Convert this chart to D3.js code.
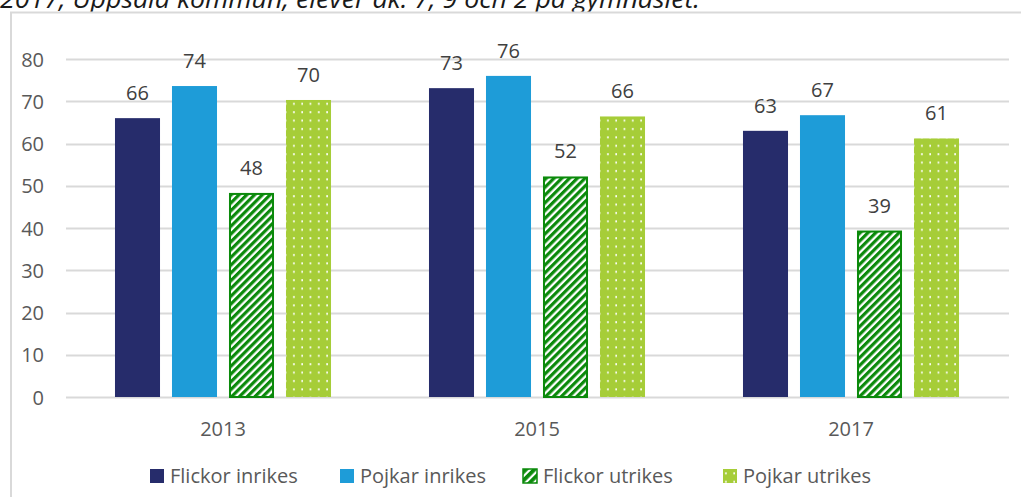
<!DOCTYPE html>
<html><head><meta charset="utf-8">
<script src="https://cdn.jsdelivr.net/npm/d3@7"></script>
<style>
html,body{margin:0;padding:0;background:#fff;overflow:hidden;}
svg{display:block;font-family:"Open Sans",sans-serif;}
</style></head>
<body>
<svg id="chart" width="1021" height="497"></svg>
<script>
const categories = ["2013", "2015", "2017"];
const seriesNames = ["Flickor inrikes", "Pojkar inrikes", "Flickor utrikes", "Pojkar utrikes"];
const flickorInrikes = [66.0, 73.1, 63.0];
const pojkarInrikes = [73.6, 76.0, 66.7];
const flickorUtrikes = [48.3, 52.2, 39.4];
const pojkarUtrikes = [70.3, 66.4, 61.2];
const yTicks = [0, 10, 20, 30, 40, 50, 60, 70, 80];
const titleText = "2017, Uppsala kommun, elever åk. 7, 9 och 2 på gymnasiet.";

const seriesValues = [flickorInrikes, pojkarInrikes, flickorUtrikes, pojkarUtrikes];
const fills = ["#262c6b", "#1e9cd8", "url(#stripes)", "url(#dots)"];
const strokes = ["none", "none", "#0b8a0b", "none"];

const svg = d3.select("#chart");
const defs = svg.append("defs");
const st = defs.append("pattern").attr("id", "stripes").attr("patternUnits", "userSpaceOnUse")
  .attr("width", 5.5).attr("height", 5.5).attr("patternTransform", "rotate(45)");
st.append("rect").attr("width", 5.5).attr("height", 5.5).attr("fill", "#ffffff");
st.append("rect").attr("width", 3.2).attr("height", 5.5).attr("fill", "#0b8a0b");
const dp = defs.append("pattern").attr("id", "dots").attr("patternUnits", "userSpaceOnUse")
  .attr("width", 8.3).attr("height", 8.4);
dp.append("rect").attr("width", 8.3).attr("height", 8.4).attr("fill", "#a6cd38");
dp.append("rect").attr("x", 3).attr("y", 2).attr("width", 1.6).attr("height", 2).attr("fill", "#ffffff");
const st2 = defs.append("pattern").attr("id", "stripesL").attr("patternUnits", "userSpaceOnUse")
  .attr("width", 6).attr("height", 6).attr("patternTransform", "rotate(45)");
st2.append("rect").attr("width", 6).attr("height", 6).attr("fill", "#ffffff");
st2.append("rect").attr("width", 3.8).attr("height", 6).attr("fill", "#0b8a0b");

// title (clipped at top, as in the reference)
svg.append("text").attr("x", 0).attr("y", 8)
  .attr("font-size", 25).attr("font-style", "italic").attr("fill", "#1a1a1a")
  .attr("textLength", 700).attr("lengthAdjust", "spacingAndGlyphs")
  .text(titleText);

// chart border
svg.append("rect").attr("x", 11).attr("y", 12.5).attr("width", 1030).attr("height", 500)
  .attr("fill", "#fff").attr("stroke", "#d9d9d9").attr("stroke-width", 2);

const y = d3.scaleLinear().domain([0, 80]).range([397, 59]);
const x0 = d3.scaleBand().domain(categories).range([66, 1008]).paddingInner(0).paddingOuter(0);
const x1 = d3.scaleBand().domain(seriesNames).range([43, 271]).paddingInner(0.21).paddingOuter(0.105);

svg.append("g").selectAll("line").data(yTicks).join("line")
  .attr("x1", 66).attr("x2", 1009)
  .attr("y1", d => Math.round(y(d)) + 0.5).attr("y2", d => Math.round(y(d)) + 0.5)
  .attr("stroke", "#d9d9d9").attr("stroke-width", 2);

const yAxis = d3.axisLeft(y).tickValues(yTicks).tickSize(0).tickPadding(0);
const ya = svg.append("g").attr("transform", "translate(44,0)").call(yAxis);
ya.select(".domain").remove();
ya.selectAll("text").attr("font-size", 20).attr("fill", "#595959").attr("font-family", "Open Sans").attr("dy", "0.35em");

const xAxis = d3.axisBottom(x0).tickSize(0).tickPadding(0);
const xa = svg.append("g").attr("transform", "translate(0,436)").call(xAxis);
xa.select(".domain").remove();
xa.selectAll("text").attr("font-size", 20).attr("fill", "#595959").attr("font-family", "Open Sans").attr("dy", "-0.02em").attr("y", 0);

const groups = svg.append("g").selectAll("g").data(categories).join("g")
  .attr("transform", d => `translate(${x0(d)},0)`);
groups.each(function(cat, ci) {
  const g = d3.select(this);
  seriesNames.forEach((s, si) => {
    const v = seriesValues[si][ci];
    const bx = x1(s), bw = x1.bandwidth();
    if (strokes[si] !== "none") {
      g.append("rect").attr("x", bx + 1).attr("y", y(v) + 1).attr("width", bw - 2).attr("height", y(0) - y(v) - 1)
        .attr("fill", fills[si]).attr("stroke", strokes[si]).attr("stroke-width", 2);
    } else {
      g.append("rect").attr("x", bx).attr("y", y(v)).attr("width", bw).attr("height", y(0) - y(v))
        .attr("fill", fills[si]);
    }
    g.append("text").attr("x", bx + bw / 2).attr("y", y(v) - 18)
      .attr("text-anchor", "middle").attr("font-size", 20).attr("fill", "#404040")
      .text(d3.format(".0f")(v));
  });
});

const legendX = [150, 340, 523, 723];
const legendFills = ["#262c6b", "#1e9cd8", "url(#stripesL)", "url(#dots)"];
const lg = svg.append("g");
seriesNames.forEach((s, i) => {
  lg.append("rect").attr("x", legendX[i]).attr("y", 469).attr("width", 14).attr("height", 14)
    .attr("fill", legendFills[i]).attr("stroke", i === 2 ? "#0b8a0b" : "none").attr("stroke-width", 1.5);
  lg.append("text").attr("x", legendX[i] + 20).attr("y", 483).attr("font-size", 20)
    .attr("fill", "#595959").text(s);
});
</script>
</body></html>
